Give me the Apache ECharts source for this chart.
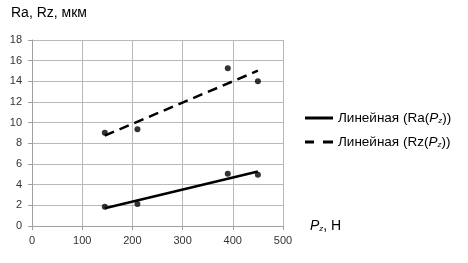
<!DOCTYPE html>
<html><head><meta charset="utf-8">
<script src="https://cdn.jsdelivr.net/npm/echarts@6/dist/echarts.min.js"></script>
<style>html,body{margin:0;padding:0;background:#fff}#c{width:468px;height:263px}</style>
</head><body><div id="c"></div>
<script>
var pz = [145, 210, 390, 450];
var raValues = [1.87, 2.13, 5.06, 4.95];
var rzValues = [9.03, 9.36, 15.26, 14.0];
var trendX = [145, 450];
var raTrend = [1.71, 5.27];
var rzTrend = [8.75, 15.03];
var xTicks = [0, 100, 200, 300, 400, 500];
var yTicks = [0, 2, 4, 6, 8, 10, 12, 14, 16, 18];

function pairs(xs, ys){ return xs.map(function(x,i){ return [x, ys[i]]; }); }

var font = 'Liberation Sans, Arial, sans-serif';
var chart = echarts.init(document.getElementById('c'));
chart.setOption({
  animation: false,
  backgroundColor: '#fff',
  grid: {left: 32, right: 185, top: 40, bottom: 37},
  xAxis: {
    type: 'value', min: 0, max: 500, interval: 100,
    name: '{i|P}{s|z}{n|, Н}', nameLocation: 'end', nameGap: 27,
    nameTextStyle: {rich: {
      i: {fontStyle: 'italic', fontSize: 14, fontFamily: font, color: '#000'},
      s: {fontStyle: 'italic', fontSize: 8, fontFamily: font, color: '#000', verticalAlign: 'bottom', padding: [6,0,0,0]},
      n: {fontSize: 14, fontFamily: font, color: '#000'}
    }},
    axisLine: {lineStyle: {color: '#a0a0a0', width: 1}},
    axisTick: {show: true, length: 4, lineStyle: {color: '#a0a0a0'}},
    axisLabel: {color: '#333', fontSize: 11, fontFamily: font, margin: 9},
    splitLine: {show: true, lineStyle: {color: '#b8b8b8', width: 1}}
  },
  yAxis: {
    type: 'value', min: 0, max: 18, interval: 2,
    axisLine: {show: true, lineStyle: {color: '#a0a0a0', width: 1}},
    axisTick: {show: true, length: 4, lineStyle: {color: '#a0a0a0'}},
    axisLabel: {color: '#333', fontSize: 11, fontFamily: font, margin: 10},
    splitLine: {show: true, lineStyle: {color: '#b8b8b8', width: 1}}
  },
  legend: {
    orient: 'vertical', left: 300, top: 106, itemWidth: 28, itemHeight: 3, itemGap: 10,
    data: [
      {name: 'Ra', icon: 'path://M0,0H28V3H0Z'},
      {name: 'Rz', icon: 'path://M0,0H9V3H0Z M18,0H28V3H18Z'}
    ],
    formatter: function(n){ return '{t|Линейная (' + n + '(}{i|P}{s|z}{t|))}'; },
    textStyle: {rich: {
      t: {fontSize: 13.5, fontFamily: font, color: '#000'},
      i: {fontSize: 13.5, fontStyle: 'italic', fontFamily: font, color: '#000'},
      s: {fontSize: 8, fontStyle: 'italic', fontFamily: font, color: '#000', verticalAlign: 'bottom', padding: [6,0,0,0]}
    }}
  },
  graphic: [{
    type: 'text', left: 11, top: 6,
    style: {text: 'Ra, Rz, мкм', font: '14px ' + font, fill: '#000'}
  }],
  series: [
    {name: 'Ra', type: 'line', data: pairs(trendX, raTrend), showSymbol: false, symbol: 'none',
     lineStyle: {color: '#000', width: 2.5, type: 'solid'}, itemStyle: {color: '#000'}},
    {name: 'Rz', type: 'line', data: pairs(trendX, rzTrend), showSymbol: false, symbol: 'none',
     lineStyle: {color: '#000', width: 2.5, type: [10, 6]}, itemStyle: {color: '#000'}},
    {name: 'Ra точки', type: 'scatter', data: pairs(pz, raValues), symbolSize: 6, itemStyle: {color: '#000'}},
    {name: 'Rz точки', type: 'scatter', data: pairs(pz, rzValues), symbolSize: 6, itemStyle: {color: '#000'}}
  ]
});
</script></body></html>
